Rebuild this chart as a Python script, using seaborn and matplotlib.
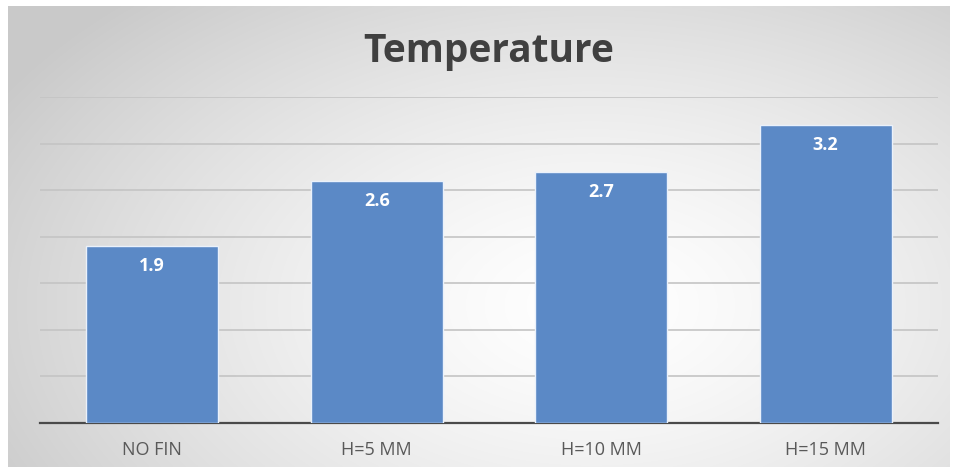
import numpy as np
import matplotlib
matplotlib.use("Agg")
import matplotlib.pyplot as plt
import seaborn as sns
import pandas as pd

categories = ["NO FIN", "H=5 MM", "H=10 MM", "H=15 MM"]
temperature = [1.9, 2.6, 2.7, 3.2]

sns.set_theme(style="white")
plt.rcParams["font.family"] = ["Open Sans", "DejaVu Sans"]

W, H = 954, 470
fig = plt.figure(figsize=(W / 100, H / 100), dpi=100)
fig.patch.set_facecolor("white")

# soft radial background panel
bg = fig.add_axes([8 / W, 3 / H, 942 / W, 461 / H], zorder=0)
yy, xx = np.mgrid[0:1:300j, 0:1:600j]
r = np.sqrt(((xx - 0.62) / 0.8) ** 2 + ((yy - 0.35) / 1.0) ** 2)
shade = np.clip(1.0 - 0.24 * r ** 1.4, 0.79, 1.0)
bg.imshow(np.dstack([shade, shade, shade]), aspect="auto", extent=[0, 1, 0, 1],
          origin="lower", interpolation="bilinear")
bg.set_axis_off()

ax = fig.add_axes([40 / W, 47 / H, 898 / W, 326 / H], zorder=1)
ax.patch.set_alpha(0)

df = pd.DataFrame({"category": categories, "temperature": temperature})
sns.barplot(data=df, x="category", y="temperature", color="#5B89C6",
            saturation=1, width=0.59, edgecolor="#EAF1FB", linewidth=1.0, ax=ax, zorder=3)

ax.set_ylim(0, 3.5)
ax.set_yticks(np.arange(0.5, 3.51, 0.5))
ax.yaxis.grid(True, color="#C4C4C4", linewidth=1.2, zorder=0)
ax.set_axisbelow(True)
ax.tick_params(axis="y", left=False, labelleft=False)
ax.tick_params(axis="x", bottom=False, labelsize=13, labelcolor="#595959", pad=7)
for s in ["top", "right", "left"]:
    ax.spines[s].set_visible(False)
ax.spines["bottom"].set_color("#4A4A4A")
ax.spines["bottom"].set_linewidth(1.6)
ax.set_xlabel("")
ax.set_ylabel("")

for patch, val in zip(ax.patches, temperature):
    ax.text(patch.get_x() + patch.get_width() / 2, val - 0.215, f"{val:.1f}",
            ha="center", va="center", color="white", fontsize=13, fontweight="bold", zorder=4)

fig.text(489 / W, 1 - 52 / H, "Temperature", ha="center", va="center",
         fontsize=28, fontweight="bold", color="#404040")

fig.savefig("out.png", dpi=100)
